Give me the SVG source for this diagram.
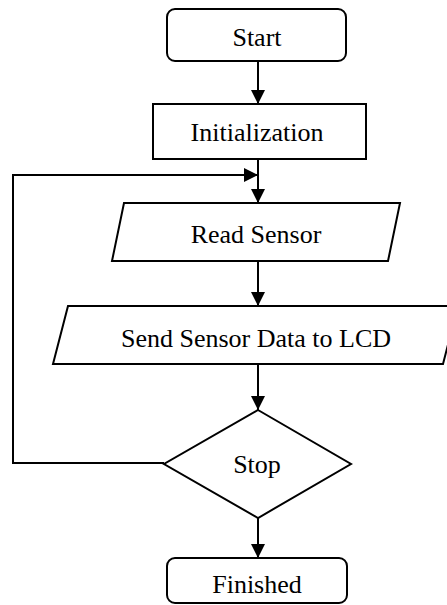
<svg xmlns="http://www.w3.org/2000/svg" width="447" height="605" viewBox="0 0 447 605">
<style>
.shape{fill:#fff;stroke:#000;stroke-width:2}
.lbl{font-family:"Liberation Serif","Times New Roman",serif;font-size:26px;fill:#000;text-anchor:middle}
.conn{fill:none;stroke:#000;stroke-width:2}
</style>
<defs>
<marker id="ah" markerUnits="userSpaceOnUse" markerWidth="16" markerHeight="16" viewBox="0 0 16 16" refX="15" refY="8" orient="auto">
<path d="M1,1 L15,8 L1,15 Z" fill="#000"/>
</marker>
</defs>
<rect width="447" height="605" fill="#fff"/>
<g id="connectors">
<line class="conn" x1="258" y1="61" x2="258" y2="104" marker-end="url(#ah)"/>
<line class="conn" x1="258" y1="159" x2="258" y2="203" marker-end="url(#ah)"/>
<polyline class="conn" points="164,463 13,463 13,175 258,175" marker-end="url(#ah)"/>
<line class="conn" x1="258" y1="261" x2="258" y2="306" marker-end="url(#ah)"/>
<line class="conn" x1="258" y1="364" x2="258" y2="410" marker-end="url(#ah)"/>
<line class="conn" x1="258" y1="518" x2="258" y2="558" marker-end="url(#ah)"/>
</g>
<g id="start">
<rect class="shape" x="167" y="9" width="179" height="52" rx="8"/>
<text class="lbl" x="257" y="46">Start</text>
</g>
<g id="init">
<rect class="shape" x="153" y="104" width="213" height="55"/>
<text class="lbl" x="257" y="141">Initialization</text>
</g>
<g id="read">
<polygon class="shape" points="124,203 400,203 388,261 112,261"/>
<text class="lbl" x="256" y="243">Read Sensor</text>
</g>
<g id="send">
<polygon class="shape" points="68,306 458,306 443,364 53,364"/>
<text class="lbl" x="256" y="347">Send Sensor Data to LCD</text>
</g>
<g id="stop">
<polygon class="shape" points="258,410 351,464 258,518 164,464"/>
<text class="lbl" x="257" y="473">Stop</text>
</g>
<g id="finished">
<rect class="shape" x="167" y="558" width="180" height="45" rx="8"/>
<text class="lbl" x="257" y="593">Finished</text>
</g>
</svg>
